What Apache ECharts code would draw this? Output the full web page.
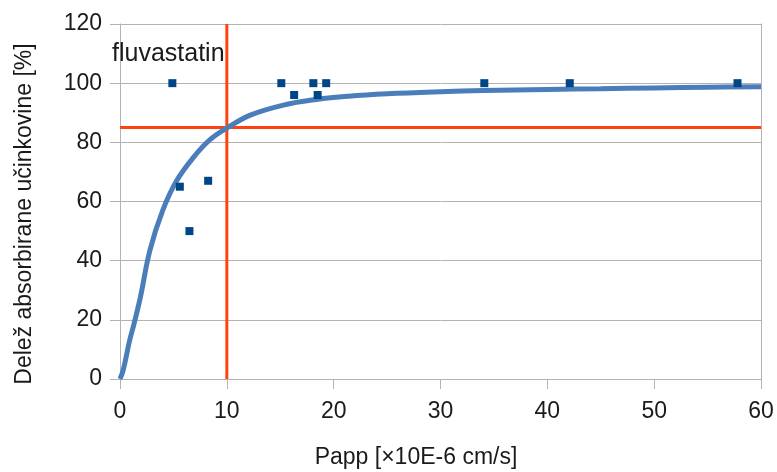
<!DOCTYPE html>
<html><head><meta charset="utf-8">
<script src="https://cdn.jsdelivr.net/npm/echarts@6/dist/echarts.min.js"></script>
<style>html,body{margin:0;padding:0;background:#fff}#c{width:777px;height:472px}</style>
</head><body><div id="c"></div>
<script>
// Measured points
const pointsPapp = [4.9, 5.6, 6.5, 8.25, 15.1, 16.3, 18.1, 18.5, 19.3, 34.1, 42.1, 57.8];
const pointsFa   = [100, 65, 50, 67, 100, 96, 100, 96, 100, 100, 100, 100];
// Fitted curve
const curvePapp = [0, 0.3, 0.9, 1.3, 1.9, 2.8, 4.0, 5.3, 6.9, 8.4, 10, 12.2, 15.3, 18.4, 21.4, 25, 30, 34, 40, 45, 50, 55, 60];
const curveFa   = [0, 3, 13, 18.5, 27.5, 43.5, 57, 67, 75, 80.8, 84.8, 89.2, 92.6, 94.5, 95.6, 96.4, 97.1, 97.5, 97.9, 98.1, 98.4, 98.6, 98.8];
// Threshold lines
const vLineX = [10, 10], vLineY = [0, 120];
const hLineX = [0, 60],  hLineY = [85, 85];
const xTicks = [0, 10, 20, 30, 40, 50, 60];
const yTicks = [0, 20, 40, 60, 80, 100, 120];

const zip = (a, b) => a.map((v, i) => [v, b[i]]);
const font = '"Liberation Sans", Arial, sans-serif';
const gray = '#b3b3b3';
const chart = echarts.init(document.getElementById('c'), null, {renderer: 'canvas'});
chart.setOption({
  animation: false,
  grid: {left: 120, right: 16, top: 24, bottom: 93},
  xAxis: {
    type: 'value', min: xTicks[0], max: xTicks[xTicks.length - 1], interval: 10,
    axisLine: {show: true, lineStyle: {color: gray}},
    axisTick: {show: true, length: 10, lineStyle: {color: gray}},
    axisLabel: {color: '#1a1a1a', fontSize: 23, fontFamily: font, margin: 21},
    splitLine: {show: false}
  },
  yAxis: [{
    type: 'value', min: yTicks[0], max: yTicks[yTicks.length - 1], interval: 20,
    axisLine: {show: true, lineStyle: {color: gray}},
    axisTick: {show: true, length: 10, lineStyle: {color: gray}},
    axisLabel: {color: '#1a1a1a', fontSize: 23, fontFamily: font, margin: 18},
    splitLine: {show: true, lineStyle: {color: gray}}
  }, {
    type: 'value', position: 'right', min: 0, max: 120, interval: 20,
    axisLine: {show: true, lineStyle: {color: gray}},
    axisTick: {show: false}, axisLabel: {show: false}, splitLine: {show: false}
  }],
  graphic: [
    {type: 'text', x: 416, y: 458, style: {text: 'Papp [×10E-6 cm/s]', fontSize: 23, fontFamily: font, fill: '#1a1a1a', align: 'center', verticalAlign: 'middle'}},
    {type: 'text', x: 25, y: 214, rotation: Math.PI / 2,
     style: {text: 'Delež absorbirane učinkovine [%]', fontSize: 23, fontFamily: font, fill: '#1a1a1a', align: 'center', verticalAlign: 'middle'}},
    {type: 'text', left: 112, top: 42, z: 10, style: {text: 'fluvastatin', fontSize: 25, fontFamily: font, fill: '#1a1a1a'}}
  ],
  series: [
    {type: 'line', data: zip(vLineX, vLineY), symbol: 'none', lineStyle: {color: '#ff420e', width: 3}, z: 2},
    {type: 'line', data: zip(hLineX, hLineY), symbol: 'none', lineStyle: {color: '#ff420e', width: 3}, z: 2},
    {type: 'line', data: zip(curvePapp, curveFa), symbol: 'none', smooth: 0.4,
     lineStyle: {color: '#4a7ebb', width: 5}, z: 3},
    {type: 'scatter', data: zip(pointsPapp, pointsFa), symbol: 'rect', symbolSize: 8,
     itemStyle: {color: '#004586', opacity: 1}, z: 4}
  ]
});
</script></body></html>
